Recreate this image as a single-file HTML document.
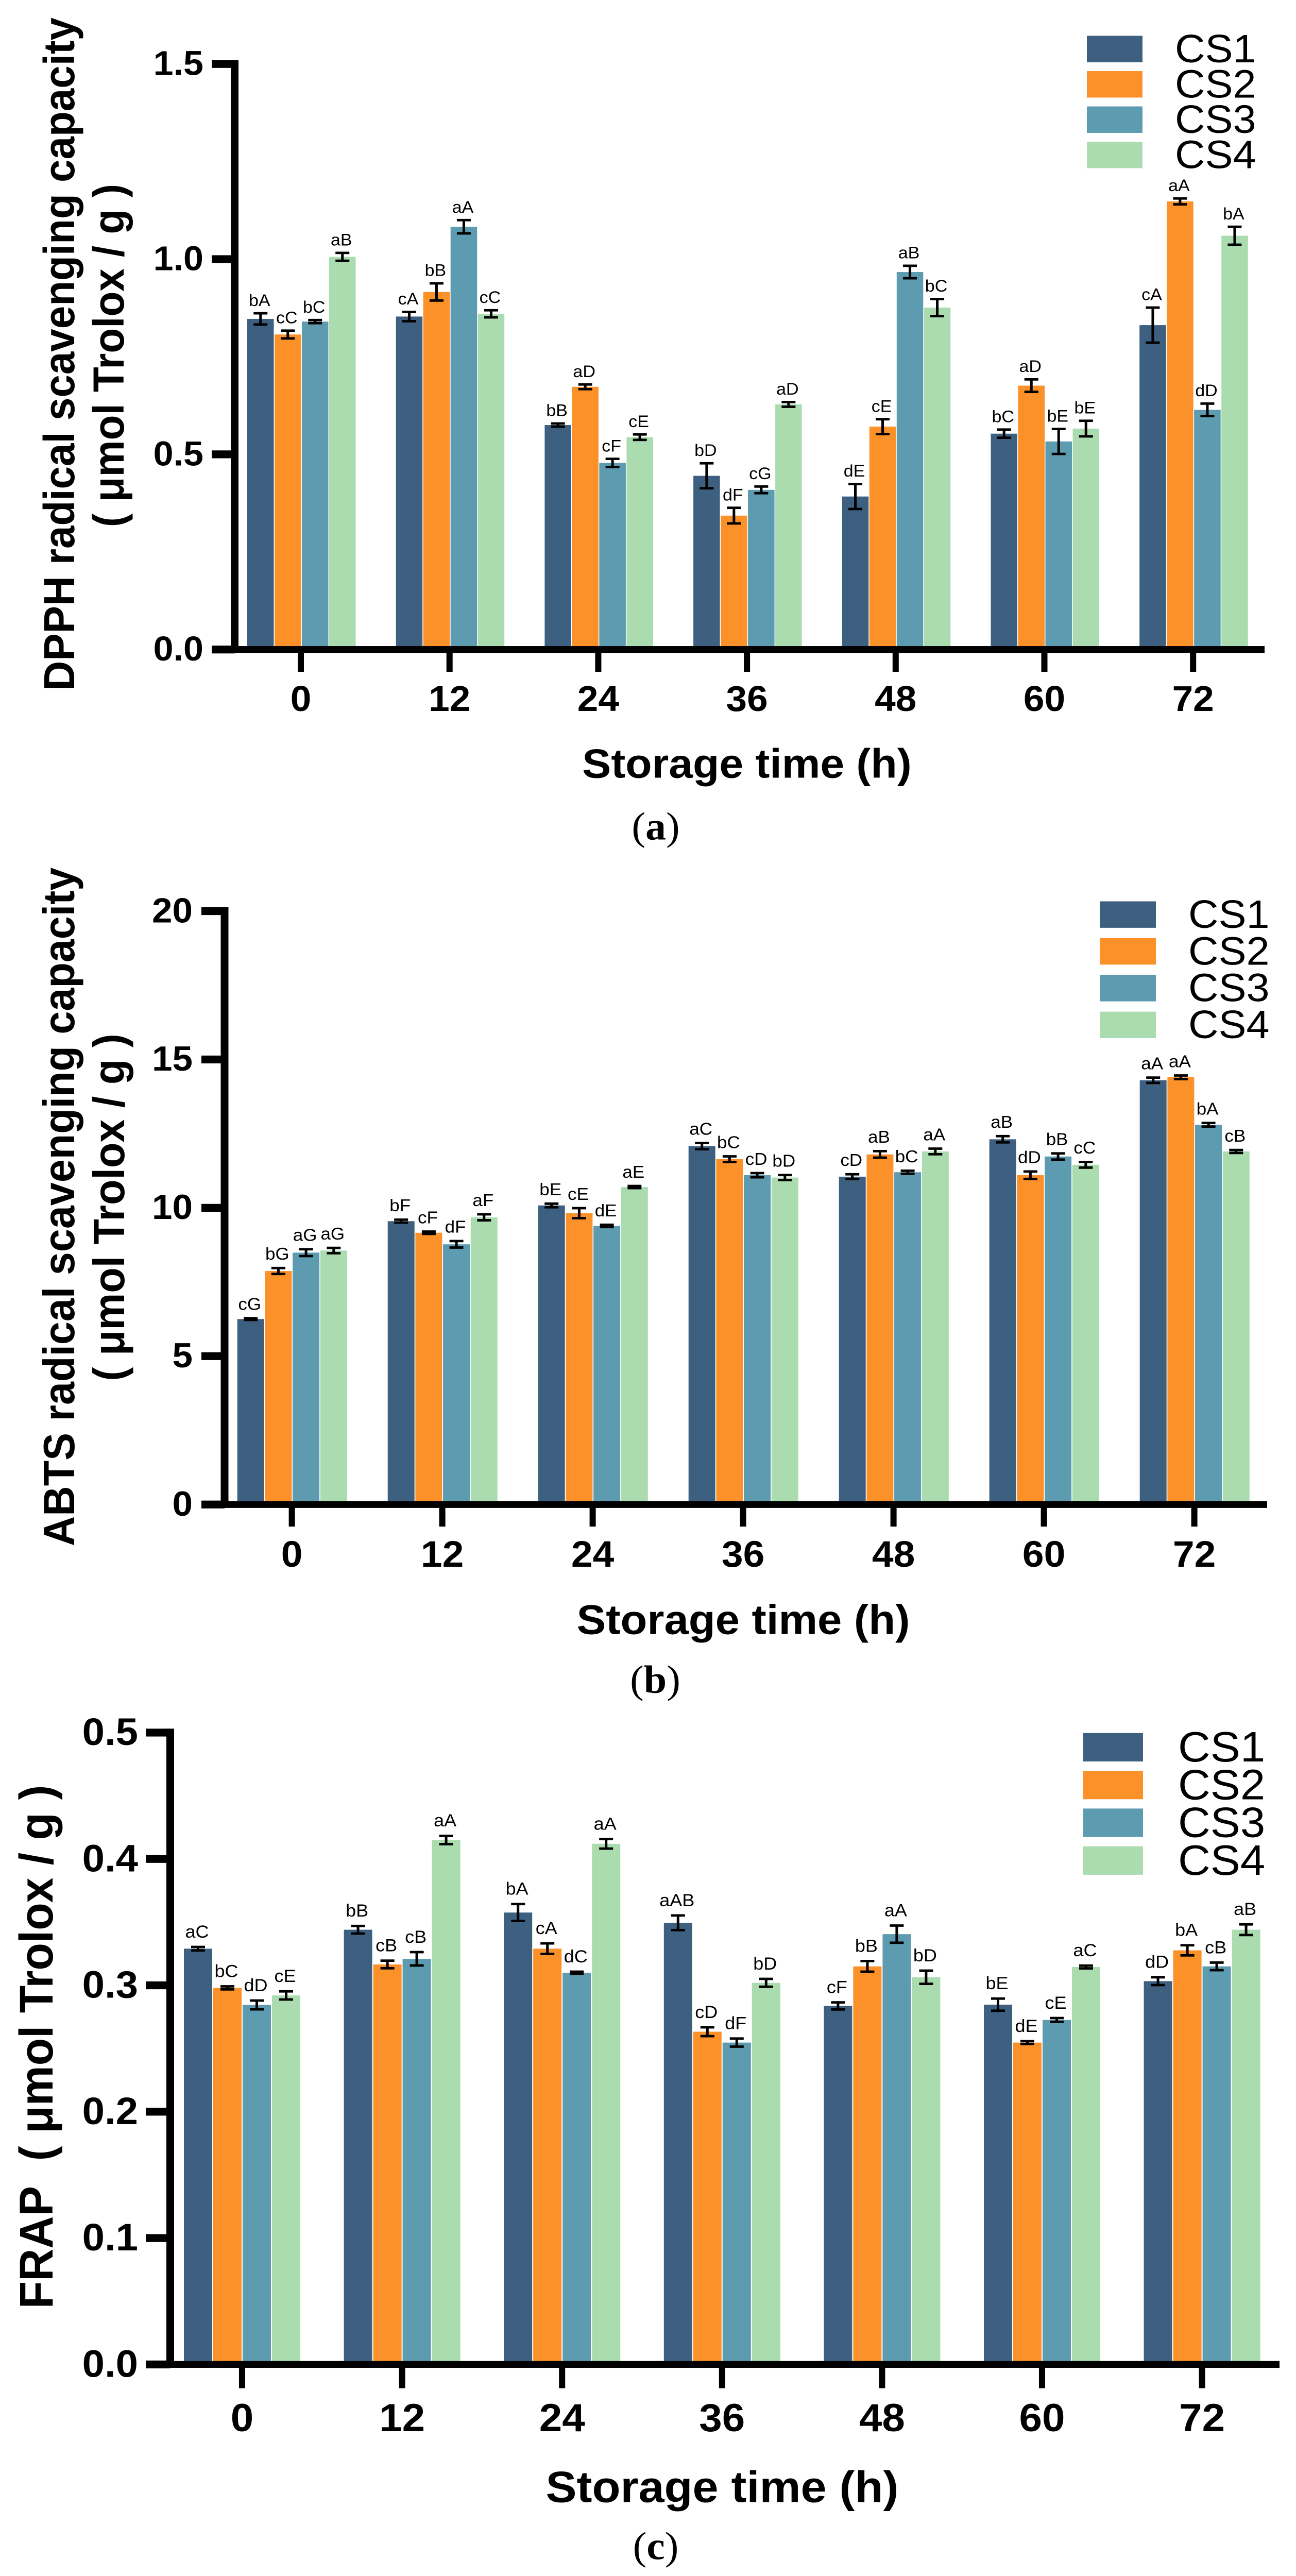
<!DOCTYPE html>
<html lang="en">
<head>
<meta charset="utf-8">
<title>Antioxidant capacity during storage</title>
<style>
html,body{margin:0;padding:0;background:#fff;width:100%;height:100%;overflow:hidden;}
#figure{position:fixed;left:0;top:0;display:block;width:100vw;height:100vh;overflow:hidden;font-family:"Liberation Sans",sans-serif;}
</style>
</head>
<body>
<svg id="figure" xmlns="http://www.w3.org/2000/svg" viewBox="0 0 2516 5253" preserveAspectRatio="none"></svg>
<script>
const categories = ['0', '12', '24', '36', '48', '60', '72'];
const seriesNames = ['CS1', 'CS2', 'CS3', 'CS4'];
const seriesColors = ['#3d5f80', '#fb9128', '#5c9bb0', '#aadcb0'];

const dpphTicks = ['0.0', '0.5', '1.0', '1.5'];
const dpphCS1 = [0.847, 0.853, 0.575, 0.445, 0.392, 0.553, 0.831];
const dpphCS2 = [0.807, 0.916, 0.673, 0.343, 0.571, 0.676, 1.148];
const dpphCS3 = [0.84, 1.083, 0.478, 0.409, 0.967, 0.533, 0.614];
const dpphCS4 = [1.006, 0.86, 0.544, 0.628, 0.876, 0.566, 1.06];
const dpphErrCS1 = [0.0144, 0.012, 0.004, 0.032, 0.032, 0.0105, 0.045];
const dpphErrCS2 = [0.01, 0.022, 0.006, 0.02, 0.019, 0.016, 0.0075];
const dpphErrCS3 = [0.004, 0.017, 0.0105, 0.0085, 0.016, 0.032, 0.016];
const dpphErrCS4 = [0.01, 0.009, 0.007, 0.006, 0.022, 0.02, 0.023];
const dpphLettersCS1 = ['bA', 'cA', 'bB', 'bD', 'dE', 'bC', 'cA'];
const dpphLettersCS2 = ['cC', 'bB', 'aD', 'dF', 'cE', 'aD', 'aA'];
const dpphLettersCS3 = ['bC', 'aA', 'cF', 'cG', 'aB', 'bE', 'dD'];
const dpphLettersCS4 = ['aB', 'cC', 'cE', 'aD', 'bC', 'bE', 'bA'];

const abtsTicks = ['0', '5', '10', '15', '20'];
const abtsCS1 = [6.25, 9.55, 10.08, 12.08, 11.05, 12.31, 14.3];
const abtsCS2 = [7.87, 9.16, 9.82, 11.64, 11.8, 11.1, 14.4];
const abtsCS3 = [8.49, 8.77, 9.39, 11.1, 11.2, 11.73, 12.8];
const abtsCS4 = [8.56, 9.68, 10.7, 11.02, 11.9, 11.45, 11.9];
const abtsErrCS1 = [0.03, 0.05, 0.06, 0.105, 0.08, 0.105, 0.09];
const abtsErrCS2 = [0.1, 0.04, 0.17, 0.095, 0.11, 0.125, 0.06];
const abtsErrCS3 = [0.115, 0.11, 0.04, 0.07, 0.05, 0.105, 0.06];
const abtsErrCS4 = [0.09, 0.1, 0.035, 0.085, 0.095, 0.095, 0.05];
const abtsLettersCS1 = ['cG', 'bF', 'bE', 'aC', 'cD', 'aB', 'aA'];
const abtsLettersCS2 = ['bG', 'cF', 'cE', 'bC', 'aB', 'dD', 'aA'];
const abtsLettersCS3 = ['aG', 'dF', 'dE', 'cD', 'bC', 'bB', 'bA'];
const abtsLettersCS4 = ['aG', 'aF', 'aE', 'bD', 'aA', 'cC', 'cB'];

const frapTicks = ['0.0', '0.1', '0.2', '0.3', '0.4', '0.5'];
const frapCS1 = [0.329, 0.344, 0.3576, 0.3495, 0.2837, 0.2847, 0.3033];
const frapCS2 = [0.298, 0.3165, 0.329, 0.2633, 0.315, 0.2547, 0.3277];
const frapCS3 = [0.2845, 0.321, 0.31, 0.2547, 0.3405, 0.2726, 0.315];
const frapCS4 = [0.292, 0.415, 0.412, 0.302, 0.3064, 0.3145, 0.344];
const frapErrCS1 = [0.0014, 0.003, 0.0067, 0.0058, 0.0028, 0.0048, 0.0031];
const frapErrCS2 = [0.0012, 0.003, 0.0042, 0.0035, 0.0042, 0.0011, 0.004];
const frapErrCS3 = [0.0035, 0.0053, 0.0008, 0.0032, 0.0068, 0.0015, 0.003];
const frapErrCS4 = [0.0032, 0.0033, 0.0038, 0.0031, 0.0052, 0.0011, 0.0042];
const frapLettersCS1 = ['aC', 'bB', 'bA', 'aAB', 'cF', 'bE', 'dD'];
const frapLettersCS2 = ['bC', 'cB', 'cA', 'cD', 'bB', 'dE', 'bA'];
const frapLettersCS3 = ['dD', 'cB', 'dC', 'dF', 'aA', 'cE', 'cB'];
const frapLettersCS4 = ['cE', 'aA', 'aA', 'bD', 'bD', 'aC', 'aB'];

const SVG_NS = 'http://www.w3.org/2000/svg';
const figure = document.getElementById('figure');

function shape(parent, tag, props) {
  const el = document.createElementNS(SVG_NS, tag);
  for (const key in props) el.setAttribute(key, props[key]);
  parent.appendChild(el);
  return el;
}

function label(parent, content, props) {
  const el = shape(parent, 'text', props);
  el.textContent = content;
  return el;
}

function drawChart(cfg) {
  const g = shape(figure, 'g', {});
  
  

  const yPos = function (v) { return cfg.y0 - v * cfg.pxPerUnit; };
  const tickX = function (i) { return cfg.tickStart + i * cfg.tickGap; };
  const barX = function (i, s) { return tickX(i) + cfg.barShift + (s - 2) * cfg.barPitch; };

  // bars
  cfg.values.forEach(function (series, s) {
    series.forEach(function (v, i) {
      const bar = shape(g, 'rect', {
        x: barX(i, s), y: yPos(v), width: cfg.barWidth,
        height: cfg.y0 - yPos(v), fill: seriesColors[s]
      });
      
      
    });
  });

  // error bars and significance letters
  cfg.values.forEach(function (series, s) {
    series.forEach(function (v, i) {
      const cx = barX(i, s) + cfg.barWidth / 2;
      const hi = yPos(v + cfg.errors[s][i]);
      const lo = yPos(v - cfg.errors[s][i]);
      const err = shape(g, 'path', {
        d: 'M' + (cx - 13.5) + ' ' + hi + 'H' + (cx + 13.5) + 'M' + cx + ' ' + hi + 'V' + lo + 'M' + (cx - 13.5) + ' ' + lo + 'H' + (cx + 13.5),
        fill: 'none', stroke: '#000', 'stroke-width': 5
      });
      
      
      const tag = label(g, cfg.letters[s][i], {
        x: cx - 2, y: hi - cfg.letterGap, 'font-size': cfg.letterSize,
        'text-anchor': 'middle', fill: '#000'
      });
      
      
    });
  });

  // y axis
  const yAxis = shape(g, 'rect', {
    x: cfg.axisX - 7.5, y: yPos(cfg.yMax) - 8, width: 15,
    height: cfg.y0 - yPos(cfg.yMax) + 8, fill: '#000'
  });
  
  
  cfg.yTicks.forEach(function (t) {
    const y = yPos(parseFloat(t));
    const mark = shape(g, 'rect', {
      x: cfg.tickLeft, y: y - 8, width: cfg.axisX - cfg.tickLeft, height: 16, fill: '#000'
    });
    
    
    const text = label(g, t, {
      x: cfg.yLabelRight, y: y + cfg.yLabelSize * 0.35 - 2, 'font-size': cfg.yLabelSize,
      'font-weight': 'bold', 'text-anchor': 'end', fill: '#000'
    });
    
    
  });

  // x axis
  const xAxis = shape(g, 'rect', {
    x: cfg.tickLeft, y: cfg.y0 - 7, width: cfg.axisRight - cfg.tickLeft, height: 14, fill: '#000'
  });
  
  
  categories.forEach(function (c, i) {
    const mark = shape(g, 'rect', {
      x: tickX(i) - 6, y: cfg.y0, width: 12, height: cfg.xTickBottom - cfg.y0, fill: '#000'
    });
    
    
    const text = label(g, c, {
      x: tickX(i), y: cfg.xLabelBase, 'font-size': cfg.xLabelSize,
      'font-weight': 'bold', 'text-anchor': 'middle', fill: '#000'
    });
    
    
  });

  // axis titles
  const xTitle = label(g, 'Storage time (h)', {
    x: cfg.xTitleX, y: cfg.xTitleBase, 'font-size': cfg.xTitleSize,
    'font-weight': 'bold', 'text-anchor': 'middle', fill: '#000'
  });
  
  
  cfg.yTitles.forEach(function (line) {
    const title = label(g, line.text, {
      transform: 'translate(' + line.base + ' ' + line.mid + ') rotate(-90)',
      'font-size': line.size, 'font-weight': 'bold', 'text-anchor': 'middle', fill: '#000'
    });
    
    
  });

  // legend
  seriesNames.forEach(function (name, s) {
    const swatch = shape(g, 'rect', {
      x: cfg.legendX, y: cfg.legendTop + s * cfg.legendStep, width: cfg.legendW,
      height: cfg.legendH, fill: seriesColors[s]
    });
    
    
    const text = label(g, name, {
      x: cfg.legendTextX, y: cfg.legendTop + cfg.legendH + s * cfg.legendStep,
      'font-size': cfg.legendSize, fill: '#000'
    });
    
    
  });

  // panel caption
  const cap = shape(g, 'text', {
    x: cfg.captionX, y: cfg.captionBase, 'font-size': 80, 'text-anchor': 'middle',
    fill: '#000', style: 'font-family:"Liberation Serif",serif'
  });
  
  
  cap.appendChild(document.createTextNode('('));
  const letter = shape(cap, 'tspan', { 'font-weight': 'bold' });
  letter.textContent = cfg.caption;
  cap.appendChild(document.createTextNode(')'));
}

drawChart({
  id: 'dpph', values: [dpphCS1, dpphCS2, dpphCS3, dpphCS4],
  errors: [dpphErrCS1, dpphErrCS2, dpphErrCS3, dpphErrCS4],
  letters: [dpphLettersCS1, dpphLettersCS2, dpphLettersCS3, dpphLettersCS4],
  yTicks: dpphTicks, yMax: 1.5, y0: 1324.5, pxPerUnit: 796,
  tickStart: 584, tickGap: 288.7, barShift: 2, barPitch: 53, barWidth: 51.5,
  axisX: 455.5, tickLeft: 411, axisRight: 2455, xTickBottom: 1370,
  letterGap: 15, letterSize: 34,
  yLabelRight: 395, yLabelSize: 70, xLabelBase: 1450, xLabelSize: 73,
  xTitleX: 1450, xTitleBase: 1586, xTitleSize: 84,
  yTitles: [
    { text: 'DPPH radical scavenging capacity', base: 144, mid: 722, size: 84 },
    { text: '( μmol Trolox / g )', base: 240, mid: 725, size: 84 }
  ],
  legendX: 2110, legendTop: 73, legendStep: 72, legendW: 108, legendH: 54,
  legendTextX: 2281, legendSize: 81,
  captionX: 1273, captionBase: 1712, caption: 'a'
});

drawChart({
  id: 'abts', values: [abtsCS1, abtsCS2, abtsCS3, abtsCS4],
  errors: [abtsErrCS1, abtsErrCS2, abtsErrCS3, abtsErrCS4],
  letters: [abtsLettersCS1, abtsLettersCS2, abtsLettersCS3, abtsLettersCS4],
  yTicks: abtsTicks, yMax: 20, y0: 3068, pxPerUnit: 60.5,
  tickStart: 566.6, tickGap: 292, barShift: 1.5, barPitch: 53.7, barWidth: 52,
  axisX: 436, tickLeft: 391, axisRight: 2460, xTickBottom: 3113,
  letterGap: 17, letterSize: 35,
  yLabelRight: 374, yLabelSize: 71, xLabelBase: 3195, xLabelSize: 75,
  xTitleX: 1443, xTitleBase: 3332, xTitleSize: 85,
  yTitles: [
    { text: 'ABTS radical scavenging capacity', base: 144, mid: 2461, size: 85 },
    { text: '( μmol Trolox / g )', base: 241, mid: 2462, size: 85 }
  ],
  legendX: 2135, legendTop: 1838, legendStep: 75, legendW: 109, legendH: 54,
  legendTextX: 2307, legendSize: 81,
  captionX: 1272, captionBase: 3452, caption: 'b'
});

drawChart({
  id: 'frap', values: [frapCS1, frapCS2, frapCS3, frapCS4],
  errors: [frapErrCS1, frapErrCS2, frapErrCS3, frapErrCS4],
  letters: [frapLettersCS1, frapLettersCS2, frapLettersCS3, frapLettersCS4],
  yTicks: frapTicks, yMax: 0.5, y0: 4821.6, pxPerUnit: 2577,
  tickStart: 470, tickGap: 310.6, barShift: 1, barPitch: 57, barWidth: 55,
  axisX: 330.5, tickLeft: 283, axisRight: 2484, xTickBottom: 4870,
  letterGap: 19, letterSize: 36,
  yLabelRight: 268, yLabelSize: 78, xLabelBase: 4958, xLabelSize: 80,
  xTitleX: 1402, xTitleBase: 5102, xTitleSize: 90,
  yTitles: [
    { text: 'FRAP\u00a0\u00a0( μmol Trolox / g )', base: 102, mid: 4174, size: 92 }
  ],
  legendX: 2103, legendTop: 3534, legendStep: 77, legendW: 116, legendH: 58,
  legendTextX: 2287, legendSize: 87,
  captionX: 1273, captionBase: 5219, caption: 'c'
});
</script>
</body>
</html>
